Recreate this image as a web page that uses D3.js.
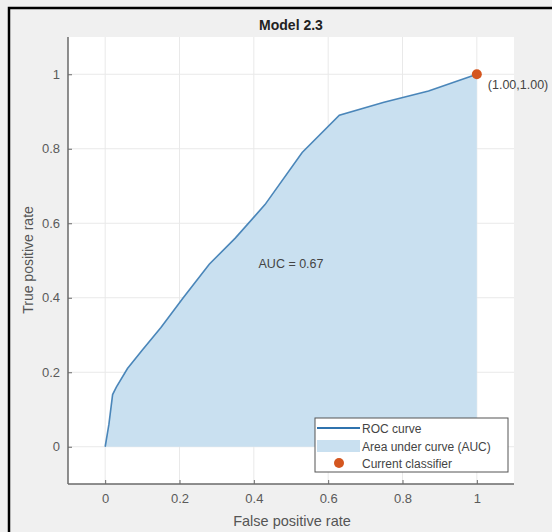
<!DOCTYPE html>
<html>
<head>
<meta charset="utf-8">
<script src="https://cdn.jsdelivr.net/npm/d3@7"></script>
<style>
	body { margin: 0; background: #fff; }
	svg text { font-family: "Liberation Sans", Arial, sans-serif; }
</style>
</head>
<body>
<div id="chart"></div>
<script>
// ROC points
const fpr = [0, 0.01, 0.02, 0.03, 0.06, 0.1, 0.15, 0.21, 0.28, 0.35, 0.43, 0.53, 0.63, 0.75, 0.87, 1];
const tpr = [0, 0.06, 0.14, 0.16, 0.21, 0.26, 0.32, 0.4, 0.49, 0.56, 0.65, 0.79, 0.89, 0.925, 0.955, 1];
const tickValues = [0, 0.2, 0.4, 0.6, 0.8, 1];
const currentPoint = [1, 1];
const aucValue = 0.67;
const legendLabels = ["ROC curve", "Area under curve (AUC)", "Current classifier"];

const W = 552, H = 532;
const margin = {top: 37, right: 38, bottom: 48, left: 68};
const width = W - margin.left - margin.right,
	height = H - margin.top - margin.bottom;

const lineColor = "#2f73ae",
	areaColor = "#c9e0f0",
	dotColor = "#d4561f",
	textColor = "#5a5a5a";

const svg = d3.select("#chart").append("svg")
	.attr("width", W)
	.attr("height", H);

// figure background + frame
svg.append("rect").attr("width", W).attr("height", H).attr("fill", "#f0f0f0");
svg.append("path")
	.attr("d", "M9,560 V8 H560")
	.attr("fill", "none")
	.attr("stroke", "#000")
	.attr("stroke-width", 2.5);

const g = svg.append("g")
	.attr("transform", "translate(" + margin.left + "," + margin.top + ")");

const x = d3.scaleLinear().domain([-0.1, 1.1]).range([0, width]);
const y = d3.scaleLinear().domain([-0.1, 1.1]).range([height, 0]);

g.append("rect").attr("width", width).attr("height", height).attr("fill", "#fff");

// grid
g.selectAll(".gx").data(tickValues).enter().append("line")
	.attr("x1", d => x(d)).attr("x2", d => x(d))
	.attr("y1", 0).attr("y2", height)
	.attr("stroke", "#e9e9e9");
g.selectAll(".gy").data(tickValues).enter().append("line")
	.attr("y1", d => y(d)).attr("y2", d => y(d))
	.attr("x1", 0).attr("x2", width)
	.attr("stroke", "#e9e9e9");

const data = fpr.map((d, i) => ({x: d, y: tpr[i]}));

// area under curve
const area = d3.area()
	.x(d => x(d.x))
	.y0(y(0))
	.y1(d => y(d.y));
g.append("path").datum(data)
	.attr("d", area)
	.attr("fill", areaColor);

// roc line
const line = d3.line()
	.x(d => x(d.x))
	.y(d => y(d.y));
g.append("path").datum(data)
	.attr("d", line)
	.attr("fill", "none")
	.attr("stroke", lineColor)
	.attr("stroke-width", 1.6)
	.attr("stroke-opacity", 0.85);

// current classifier
g.append("circle")
	.attr("cx", x(currentPoint[0]))
	.attr("cy", y(currentPoint[1]))
	.attr("r", 5)
	.attr("fill", dotColor);
g.append("text")
	.attr("x", x(currentPoint[0]) + 11)
	.attr("y", y(currentPoint[1]) + 15)
	.attr("font-size", 12.5)
	.attr("fill", "#444")
	.text("(" + currentPoint[0].toFixed(2) + "," + currentPoint[1].toFixed(2) + ")");

g.append("text")
	.attr("x", x(0.5))
	.attr("y", y(0.48))
	.attr("text-anchor", "middle")
	.attr("font-size", 12.5)
	.attr("fill", "#444")
	.text("AUC = " + aucValue.toFixed(2));

// axes
const xAxis = g.append("g")
	.attr("transform", "translate(0," + height + ")")
	.call(d3.axisBottom(x).tickValues(tickValues).tickFormat(d3.format("~g")).tickSize(-4).tickPadding(10));
const yAxis = g.append("g")
	.call(d3.axisLeft(y).tickValues(tickValues).tickFormat(d3.format("~g")).tickSize(-4).tickPadding(8));
[xAxis, yAxis].forEach(a => {
	a.select(".domain").attr("stroke", "#6a6a6a").attr("stroke-width", 1.5);
	a.selectAll(".tick line").attr("stroke", "#6a6a6a");
	a.selectAll(".tick text").attr("fill", textColor).attr("font-size", 13)
		.style("font-family", "'Liberation Sans', Arial, sans-serif");
});
xAxis.select(".domain").attr("d", "M0,0H" + width);
yAxis.select(".domain").attr("d", "M0," + height + "V0");

// titles
svg.append("text")
	.attr("x", margin.left + width / 2)
	.attr("y", 30)
	.attr("text-anchor", "middle")
	.attr("font-size", 14)
	.attr("font-weight", "bold")
	.attr("fill", "#222")
	.text("Model 2.3");
svg.append("text")
	.attr("x", 292)
	.attr("y", 526)
	.attr("text-anchor", "middle")
	.attr("font-size", 14.5)
	.attr("fill", "#555")
	.text("False positive rate");
svg.append("text")
	.attr("transform", "translate(33,260) rotate(-90)")
	.attr("text-anchor", "middle")
	.attr("font-size", 14)
	.attr("fill", "#555")
	.text("True positive rate");

// legend
const lg = svg.append("g").attr("transform", "translate(315,418)");
lg.append("rect")
	.attr("width", 193).attr("height", 54)
	.attr("fill", "#fff")
	.attr("stroke", "#555")
	.attr("stroke-width", 1);
const rowY = [10, 28, 45];
lg.append("line")
	.attr("x1", 2).attr("x2", 45)
	.attr("y1", rowY[0]).attr("y2", rowY[0])
	.attr("stroke", lineColor).attr("stroke-width", 1.8);
lg.append("rect")
	.attr("x", 2).attr("y", rowY[1] - 6)
	.attr("width", 43).attr("height", 12)
	.attr("fill", areaColor);
lg.append("circle")
	.attr("cx", 24).attr("cy", rowY[2])
	.attr("r", 5).attr("fill", dotColor);
lg.selectAll(".lt").data(legendLabels).enter().append("text")
	.attr("x", 47)
	.attr("y", (d, i) => rowY[i] + 4.5)
	.attr("font-size", 12)
	.attr("fill", "#444")
	.text(d => d);
</script>
</body>
</html>
